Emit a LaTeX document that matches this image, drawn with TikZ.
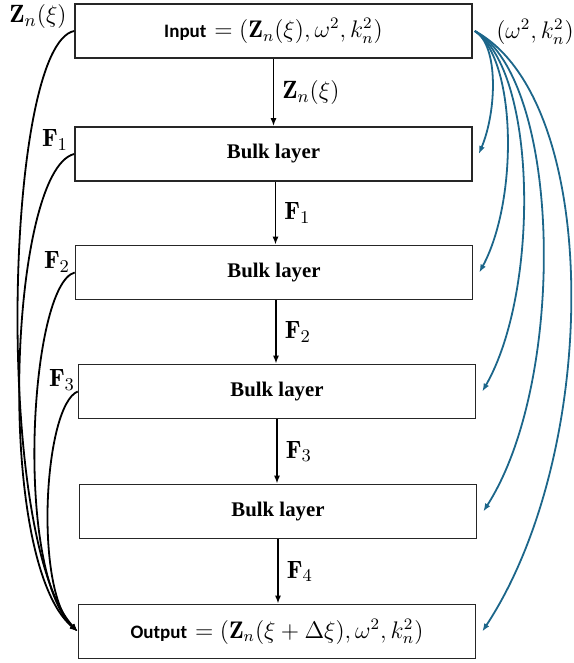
\documentclass[tikz,border=0pt]{standalone}
\usepackage{fontspec}
\usetikzlibrary{arrows.meta}
\newfontfamily\calfont{Carlito}
\newfontfamily\serfont{Liberation Serif}
\definecolor{tealblue}{RGB}{28,102,138}
\begin{document}
\begin{tikzpicture}[x=0.5pt,y=-0.5pt,
  box/.style={draw=black!85,line width=0.8pt,minimum width=198.5pt,minimum height=27pt,inner sep=0pt,font=\fontsize{12}{14}\selectfont},
  flow/.style={line width=0.8pt,-{Latex[length=4pt,width=3pt]}},
  skip/.style={line width=0.9pt,-{Latex[length=4pt,width=3pt]}},
  blue/.style={tealblue,line width=0.9pt,-{Latex[length=4pt,width=3pt]}},
  lab/.style={font=\fontsize{12.5}{14}\selectfont,inner sep=0pt}]
\useasboundingbox (0,0) rectangle (573,663);
\node[box] (in) at (273.5,31) {{\calfont\bfseries\fontsize{9.5}{11}\selectfont Input} $=(\mathbf{Z}_n(\xi),\omega^2,k_n^2)$};
\node[box] (b1) at (273.5,154) {\serfont\bfseries\fontsize{10.4}{12}\selectfont Bulk layer};
\node[box] (b2) at (274,272.5) {\serfont\bfseries\fontsize{10.4}{12}\selectfont Bulk layer};
\node[box] (b3) at (277,391.5) {\serfont\bfseries\fontsize{10.4}{12}\selectfont Bulk layer};
\node[box] (b4) at (278,511.5) {\serfont\bfseries\fontsize{10.4}{12}\selectfont Bulk layer};
\node[box] (out) at (277,631.5) {{\calfont\bfseries\fontsize{9.5}{11}\selectfont Output} $=(\mathbf{Z}_n(\xi+\Delta\xi),\omega^2,k_n^2)$};
% vertical arrows
\draw[flow] (in.south) -- (in.south |- b1.north) node[lab,midway,right=4pt] {$\mathbf{Z}_n(\xi)$};
\draw[flow] ([xshift=1pt]b1.south) -- ([xshift=1pt]b1.south |- b2.north) node[lab,midway,right=4pt] {$\mathbf{F}_1$};
\draw[flow] ([xshift=1pt]b2.south) -- ([xshift=1pt]b2.south |- b3.north) node[lab,midway,right=4pt] {$\mathbf{F}_2$};
\draw[flow] (b3.south) -- (b3.south |- b4.north) node[lab,midway,right=4pt] {$\mathbf{F}_3$};
\draw[flow] (b4.south) -- (b4.south |- out.north) node[lab,midway,right=4pt] {$\mathbf{F}_4$};
% left labels
\node[lab] (lz) at (38,17) {$\mathbf{Z}_n(\xi)$};
\node[lab] (l1) at (55,140) {$\mathbf{F}_1$};
\node[lab] (l2) at (57,262) {$\mathbf{F}_2$};
\node[lab] (l3) at (62,380) {$\mathbf{F}_3$};
\node[lab,font=\fontsize{11.5}{13}\selectfont] (lr) at (535,32) {$(\omega^2,k_n^2)$};
% left skip connections
\draw[skip] (in.west) .. controls +(-70,14) and +(-84,-91) .. (out.west);
\draw[skip] (b1.west) .. controls +(-65,16) and +(-84,-71) .. (out.west);
\draw[skip] (b2.west) .. controls +(-45,12) and +(-64,-61) .. (out.west);
\draw[skip] (b3.west) .. controls +(-34,14) and +(-44,-41) .. (out.west);
% right blue connections
\coordinate (src) at ([xshift=1pt]in.east);
\draw[blue] (src) .. controls +(24,14) and +(18,-43) .. ([xshift=3pt]b1.east);
\draw[blue] (src) .. controls +(42,29) and +(39,-72) .. ([xshift=3pt]b2.east);
\draw[blue] (src) .. controls +(62,39) and +(58,-101) .. ([xshift=3pt]b3.east);
\draw[blue] (src) .. controls +(87,49) and +(84,-131) .. ([xshift=3pt]b4.east);
\draw[blue] (src) .. controls +(127,69) and +(119,-181) .. ([xshift=3pt]out.east);
\end{tikzpicture}
\end{document}
